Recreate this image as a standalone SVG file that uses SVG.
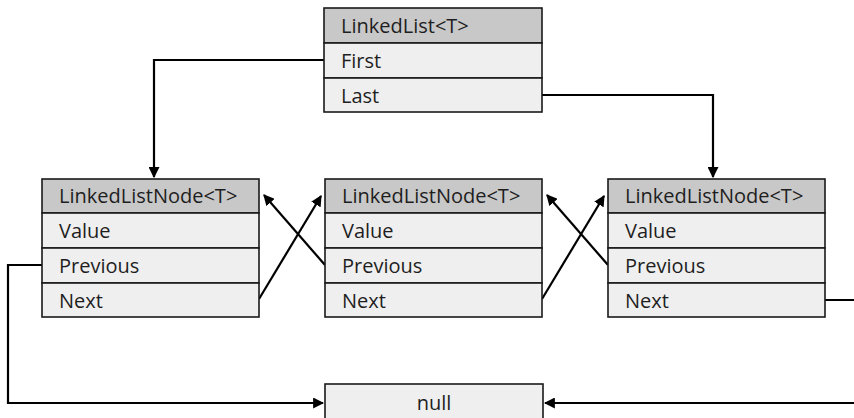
<svg xmlns="http://www.w3.org/2000/svg" width="854" height="418" viewBox="0 0 854 418">
<style>
.hdr{fill:#c8c8c8;stroke:#1a1a1a;stroke-width:1.6}
.row{fill:#efefef;stroke:#1a1a1a;stroke-width:1.6}
text{font-family:"Open Sans","Noto Sans",sans-serif;font-size:20px;fill:#1e1e1e}
.c{fill:none;stroke:#000;stroke-width:2.2}
</style>
<defs>
<marker id="ah" viewBox="0 0 10 10" refX="9" refY="5" markerWidth="5" markerHeight="5" orient="auto" markerUnits="strokeWidth">
<path d="M0,0 L10,5 L0,10 z" fill="#000"/>
</marker>
</defs>
<g id="connectors">
<path class="c" d="M324,60 H154 V177" marker-end="url(#ah)"/>
<path class="c" d="M542,95 H713 V177" marker-end="url(#ah)"/>
<path class="c" d="M259,299 L321,196" marker-end="url(#ah)"/>
<path class="c" d="M325,265 L264,195" marker-end="url(#ah)"/>
<path class="c" d="M542,299 L604,196" marker-end="url(#ah)"/>
<path class="c" d="M608,265 L547,195" marker-end="url(#ah)"/>
<path class="c" d="M42,265 H8 V403 H323" marker-end="url(#ah)"/>
<path class="c" d="M825,300 H856 V403 H545" marker-end="url(#ah)"/>
</g>
<g id="linkedlist">
<rect class="hdr" x="324" y="8" width="218" height="35"/>
<rect class="row" x="324" y="43" width="218" height="35"/>
<rect class="row" x="324" y="78" width="218" height="34"/>
<text x="341" y="33">LinkedList&lt;T&gt;</text>
<text x="341" y="68">First</text>
<text x="341" y="103">Last</text>
</g>
<g id="node1">
<rect class="hdr" x="42" y="179" width="217" height="34"/>
<rect class="row" x="42" y="213" width="217" height="35"/>
<rect class="row" x="42" y="248" width="217" height="35"/>
<rect class="row" x="42" y="283" width="217" height="34"/>
<text x="59" y="203">LinkedListNode&lt;T&gt;</text>
<text x="59" y="238">Value</text>
<text x="59" y="273">Previous</text>
<text x="59" y="308">Next</text>
</g>
<g id="node2">
<rect class="hdr" x="325" y="179" width="217" height="34"/>
<rect class="row" x="325" y="213" width="217" height="35"/>
<rect class="row" x="325" y="248" width="217" height="35"/>
<rect class="row" x="325" y="283" width="217" height="34"/>
<text x="342" y="203">LinkedListNode&lt;T&gt;</text>
<text x="342" y="238">Value</text>
<text x="342" y="273">Previous</text>
<text x="342" y="308">Next</text>
</g>
<g id="node3">
<rect class="hdr" x="608" y="179" width="217" height="34"/>
<rect class="row" x="608" y="213" width="217" height="35"/>
<rect class="row" x="608" y="248" width="217" height="35"/>
<rect class="row" x="608" y="283" width="217" height="34"/>
<text x="625" y="203">LinkedListNode&lt;T&gt;</text>
<text x="625" y="238">Value</text>
<text x="625" y="273">Previous</text>
<text x="625" y="308">Next</text>
</g>
<g id="null">
<rect class="row" x="325" y="384" width="218" height="40"/>
<text x="434" y="410" text-anchor="middle">null</text>
</g>
</svg>
